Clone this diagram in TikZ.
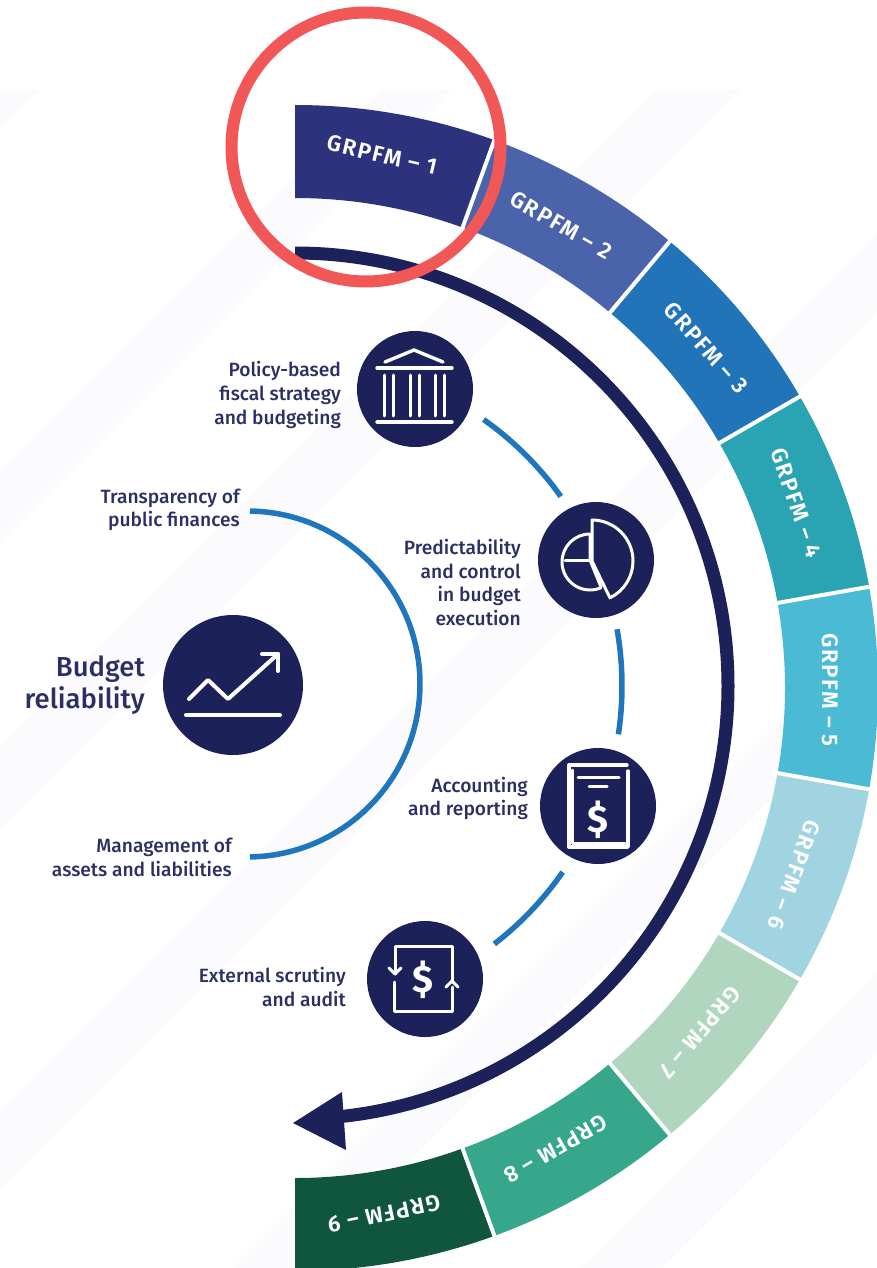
\documentclass[tikz,border=0pt]{standalone}
\usepackage{fontspec}
\setmainfont{Fira Sans}
\newfontfamily\medf{Fira Sans Medium}
\newfontfamily\segf[LetterSpace=7]{Fira Sans SemiBold}
\definecolor{navy}{HTML}{1C2159}
\definecolor{txt}{HTML}{2B2F64}
\definecolor{midblue}{HTML}{1F76BC}
\definecolor{ringred}{HTML}{F25757}
\definecolor{bandc}{HTML}{FBFBFE}
\definecolor{sa}{HTML}{2C337C}
\definecolor{sb}{HTML}{4A63AB}
\definecolor{sc}{HTML}{2274B8}
\definecolor{sd}{HTML}{2AA4B2}
\definecolor{se}{HTML}{4BBBD5}
\definecolor{sf}{HTML}{A0D4E1}
\definecolor{sg}{HTML}{B0D6C0}
\definecolor{sh}{HTML}{36A78A}
\definecolor{si}{HTML}{10553D}
\tikzset{
  x=1pt,y=1pt,
  iconcircle/.style={circle,fill=navy,inner sep=0pt,minimum size=116pt},
  icon/.style={draw=white,line width=3.4pt,line cap=round,line join=round},
  thinicon/.style={icon,line width=3pt},
  lab/.style={text=txt,align=right,anchor=east,inner sep=0pt,font=\fontsize{19.2}{23.6}\selectfont\medf},
  seglab/.style={text=white,inner sep=0pt,font=\fontsize{22.5}{24}\selectfont\segf},
  connarc/.style={draw=midblue,line width=5.5pt},
  divider/.style={draw=white,line width=4pt},
}
\newcommand{\seg}[2]{% start compass angle, colour
  \fill[#2] ($(C)+({90-#1}:583)$) arc[start angle={90-#1},end angle={90-#1-20},radius=583]
    -- ($(C)+({90-#1-20}:490)$) arc[start angle={90-#1-20},end angle={90-#1},radius=490] -- cycle;
}
\newcommand{\divl}[1]{\draw[divider] ($(C)+({90-#1}:486)$) -- ($(C)+({90-#1}:587)$);}
\usetikzlibrary{calc}
\begin{document}
\begin{tikzpicture}
\useasboundingbox (0,-1268) rectangle (877,0);
\coordinate (C) at (295,-688);
\coordinate (A) at (295,-686);
% faint background bands (x+y = const in pixels)
\begin{scope}
\clip (0,-1268) rectangle (877,-90);
\foreach \a/\b in {40/130,470/540,745/830,1110/1190,1500/1570,1850/1930}{
  \fill[bandc] (0,-\a) -- (0,-\b) -- (\b,0) -- (\a,0) -- cycle;
}
\end{scope}
% ring
\begin{scope}
\clip (0,-1268) rectangle (877,0);
\seg{0}{sa}
\seg{20}{sb}
\seg{40}{sc}
\seg{60}{sd}
\seg{80}{se}
\seg{100}{sf}
\seg{120}{sg}
\seg{140}{sh}
\seg{160}{si}
\foreach \t in {20,40,...,160}{\divl{\t}}
\end{scope}
\node[seglab,rotate=-13] (g1) at (382,-155) {GRPFM – 1};
\node[seglab,rotate=-30] (g2) at (561,-225) {GRPFM – 2};
\node[seglab,rotate=-48.5] (g3) at (706,-348) {GRPFM – 3};
\node[seglab,rotate=-71] (g4) at (796,-503) {GRPFM – 4};
\node[seglab,rotate=-90] (g5) at (830,-690) {GRPFM – 5};
\node[seglab,rotate=-110] (g6) at (794,-875) {GRPFM – 6};
\node[seglab,rotate=-130] (g7) at (700,-1032) {GRPFM – 7};
\node[seglab,rotate=-150] (g8) at (556,-1149) {GRPFM – 8};
\node[seglab,rotate=-168] (g9) at (384,-1214) {GRPFM – 9};
% big arrow
\draw[navy,line width=13pt] ($(A)+(90:433)$) arc[start angle=90,end angle=-84.7,radius=433];
\fill[navy] (293,-1123) -- (342,-1092) -- (346,-1150) -- cycle;
% inner arc
\draw[connarc] (250,-511) arc[start angle=89,end angle=-89,radius=173];
% middle arcs
\draw[connarc] ($(A)+({90-35.3}:326.5)$) arc[start angle={90-35.3},end angle={90-54.5},radius=326.5];
\draw[connarc] ($(A)+({90-80}:327)$) arc[start angle={90-80},end angle={90-98.5},radius=327];
\draw[connarc] ($(A)+({90-124.8}:326)$) arc[start angle={90-124.8},end angle={90-142.3},radius=326];
% main circle
\node[circle,fill=navy,inner sep=0pt,minimum size=140pt] (main) at (233,-685) {};
\begin{scope}[shift={(main)}]
\draw[icon,line width=4pt] (-44,-14) -- (-25,5) -- (-5,-14) -- (45,31);
\draw[icon,line width=4pt] (29,31) -- (45,31) -- (45,14);
\draw[icon,line width=4pt] (-47,-30) -- (47,-30);
\end{scope}
\node[text=txt,align=right,anchor=east,inner sep=0pt,font=\fontsize{27.5}{32}\selectfont\medf] (blab) at (145,-685) {Budget\\reliability};
% c1
\node[iconcircle] (c1) at (415,-389) {};
\begin{scope}[shift={(c1)}]
\draw[icon] (-30,27) -- (-1,39) -- (28,27);
\draw[icon] (-38,21) -- (37,21);
\draw[icon] (-38,-33) -- (37,-33);
\foreach \x in {-31,-22,-5,4,20,29}{\draw[thinicon] (\x,14) -- (\x,-27);}
\end{scope}
% c2
\node[iconcircle] (c2) at (596,-560) {};
\begin{scope}[shift={(c2)}]
\draw[thinicon] (-4,40) arc[start angle=90,end angle=-64,radius=41] -- (-4,-1) -- cycle;
\draw[thinicon] (-6,26) arc[start angle=90,end angle=293,radius=28];
\draw[thinicon] (-6,26) -- (-6,0) -- (5,-27);
\draw[thinicon] (-31,0) -- (-6,0);
\end{scope}
% c3
\node[iconcircle] (c3) at (598,-806) {};
\begin{scope}[shift={(c3)}]
\draw[icon] (29,41) -- (-29,41) -- (-29,-41) -- (30,-41) -- (30,35);
\draw[thinicon] (-26,36) -- (-26,-37) -- (27,-37);
\draw[thinicon] (-20,29) -- (21,29);
\draw[thinicon] (-9,20) -- (9,20);
\node[text=white,inner sep=0pt,font=\fontsize{38}{38}\selectfont\bfseries] (d3) at (0,-14) {\$};
\end{scope}
% c4
\node[iconcircle] (c4) at (425,-979) {};
\begin{scope}[shift={(c4)}]
\draw[thinicon] (-30,14) -- (-30,33) -- (27,33) -- (27,-3);
\draw[thinicon] (-36,11) -- (-30,5) -- (-24,11);
\draw[thinicon] (-30,5) -- (-30,14);
\draw[thinicon] (27,-8) -- (27,-32) -- (-31,-32) -- (-31,-3);
\draw[thinicon] (21,-8) -- (27,-2) -- (33,-8);
\node[text=white,inner sep=0pt,font=\fontsize{38}{38}\selectfont\bfseries] (d4) at (-2,-1) {\$};
\end{scope}
% labels
\node[lab] (l1) at (341,-395) {Policy-based\\fiscal strategy\\and budgeting};
\node[lab] (l2) at (240,-510) {Transparency of\\public finances};
\node[lab] (l3) at (521,-582.5) {Predictability\\and control\\in budget\\execution};
\node[lab] (l4) at (528,-798.5) {Accounting\\and reporting};
\node[lab] (l5) at (232,-857.5) {Management of\\assets and liabilities};
\node[lab] (l6) at (346,-987) {External scrutiny\\and audit};
% red ring
\node[circle,draw=ringred,line width=12pt,inner sep=0pt,minimum size=269pt] (ring) at (366,-147) {};
\end{tikzpicture}
\end{document}
